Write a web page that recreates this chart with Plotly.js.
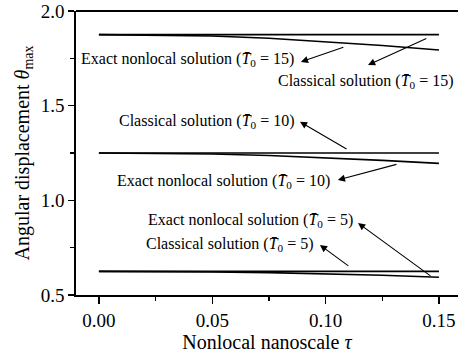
<!DOCTYPE html>
<html>
<head>
<meta charset="utf-8">
<script src="https://cdn.plot.ly/plotly-3.0.1.min.js"></script>
<style>
  html, body { margin: 0; padding: 0; background: #fff; }
  #chart { width: 458px; height: 353px; }
</style>
</head>
<body>
<div id="chart"></div>
<script>
// Nonlocal nanoscale parameter τ
const tau = [0, 0.025, 0.05, 0.075, 0.10, 0.125, 0.15];

// Classical solutions (independent of τ)
const classical15 = [1.875, 1.875, 1.875, 1.875, 1.875, 1.875, 1.875];
const classical10 = [1.25, 1.25, 1.25, 1.25, 1.25, 1.25, 1.25];
const classical5  = [0.625, 0.625, 0.625, 0.625, 0.625, 0.625, 0.625];

// Exact nonlocal solutions
const exact15 = [1.875, 1.873, 1.868, 1.856, 1.838, 1.818, 1.794];
const exact10 = [1.25, 1.249, 1.245, 1.237, 1.225, 1.211, 1.195];
const exact5  = [0.625, 0.624, 0.622, 0.618, 0.612, 0.604, 0.594];

const xTickVals = [0, 0.05, 0.10, 0.15];
const xTickText = ['0.00', '0.05', '0.10', '0.15'];
const yTickVals = [0.5, 1.0, 1.5, 2.0];
const yTickText = ['0.5', '1.0', '1.5', '2.0'];

const T0 = '<i>T̄</i><sub>0</sub>';
const labels = [
  'Exact nonlocal solution (' + T0 + ' = 15)',
  'Classical solution (' + T0 + ' = 15)',
  'Classical solution (' + T0 + ' = 10)',
  'Exact nonlocal solution (' + T0 + ' = 10)',
  'Exact nonlocal solution (' + T0 + ' = 5)',
  'Classical solution (' + T0 + ' = 5)'
];

const serif = 'Liberation Serif, DejaVu Serif, serif';
const lineStyle = { color: '#000', width: 1.6 };

const series = [classical15, exact15, classical10, exact10, classical5, exact5];
const traces = series.map(ys => ({
  x: tau, y: ys, type: 'scatter', mode: 'lines',
  line: lineStyle, hoverinfo: 'skip', showlegend: false
}));

// label text placement [x, y] in axis units
const labelPos = [
  [0.0393, 1.746],
  [0.1176, 1.630],
  [0.0476, 1.419],
  [0.0549, 1.097],
  [0.0668, 0.896],
  [0.0580, 0.769]
];
// arrows: [headX, headY, tailX, tailY]
const arrows = [
  [0.0891, 1.731, 0.1085, 1.811],
  [0.1187, 1.715, 0.1451, 1.859],
  [0.0887, 1.415, 0.1099, 1.266],
  [0.1054, 1.107, 0.1319, 1.192],
  [0.1143, 0.880, 0.1469, 0.595],
  [0.0975, 0.764, 0.1107, 0.648]
];

const annotations = [];
labels.forEach((t, i) => {
  annotations.push({
    x: labelPos[i][0], y: labelPos[i][1], xref: 'x', yref: 'y',
    text: t, showarrow: false,
    font: { family: serif, size: 16, color: '#000' },
    xanchor: 'center', yanchor: 'middle'
  });
});
arrows.forEach(a => {
  annotations.push({
    x: a[0], y: a[1], ax: a[2], ay: a[3],
    xref: 'x', yref: 'y', axref: 'x', ayref: 'y',
    text: '', showarrow: true,
    arrowhead: 2, arrowsize: 1.3, arrowwidth: 1.1, arrowcolor: '#000',
    standoff: 0, startstandoff: 0
  });
});

const layout = {
  width: 458, height: 353,
  margin: { l: 76, r: 0, t: 11, b: 58 },
  paper_bgcolor: '#fff', plot_bgcolor: '#fff',
  font: { family: serif, color: '#000' },
  xaxis: {
    range: [-0.0101, 0.1584],
    tickvals: xTickVals, ticktext: xTickText,
    ticks: 'outside', ticklen: 7, tickwidth: 1.3, tickcolor: '#000',
    minor: { dtick: 0.025, ticks: 'outside', ticklen: 4, tickwidth: 1.2, tickcolor: '#000', showgrid: false },
    showline: true, linecolor: '#000', linewidth: 1.8,
    showgrid: false, zeroline: false,
    tickfont: { family: serif, size: 19, color: '#000' },
    title: { text: 'Nonlocal nanoscale <i>τ</i>', font: { family: serif, size: 20, color: '#000' }, standoff: 4 }
  },
  yaxis: {
    range: [0.5, 2.0],
    tickvals: yTickVals, ticktext: yTickText,
    ticks: 'outside', ticklen: 6, tickwidth: 1.3, tickcolor: '#000',
    minor: { dtick: 0.25, ticks: 'outside', ticklen: 4, tickwidth: 1.2, tickcolor: '#000', showgrid: false },
    showline: true, linecolor: '#000', linewidth: 1.8,
    showgrid: false, zeroline: false,
    tickfont: { family: serif, size: 19, color: '#000' },
    title: { text: 'Angular displacement <i>θ</i><sub>max</sub>', font: { family: serif, size: 20, color: '#000' }, standoff: 6 }
  },
  shapes: [{
    type: 'line', xref: 'paper', yref: 'paper', x0: 0, x1: 1, y0: 1, y1: 1,
    line: { color: '#000', width: 1.8 }
  }],
  annotations: annotations
};

Plotly.newPlot('chart', traces, layout, { staticPlot: true, displayModeBar: false });
</script>
</body>
</html>
